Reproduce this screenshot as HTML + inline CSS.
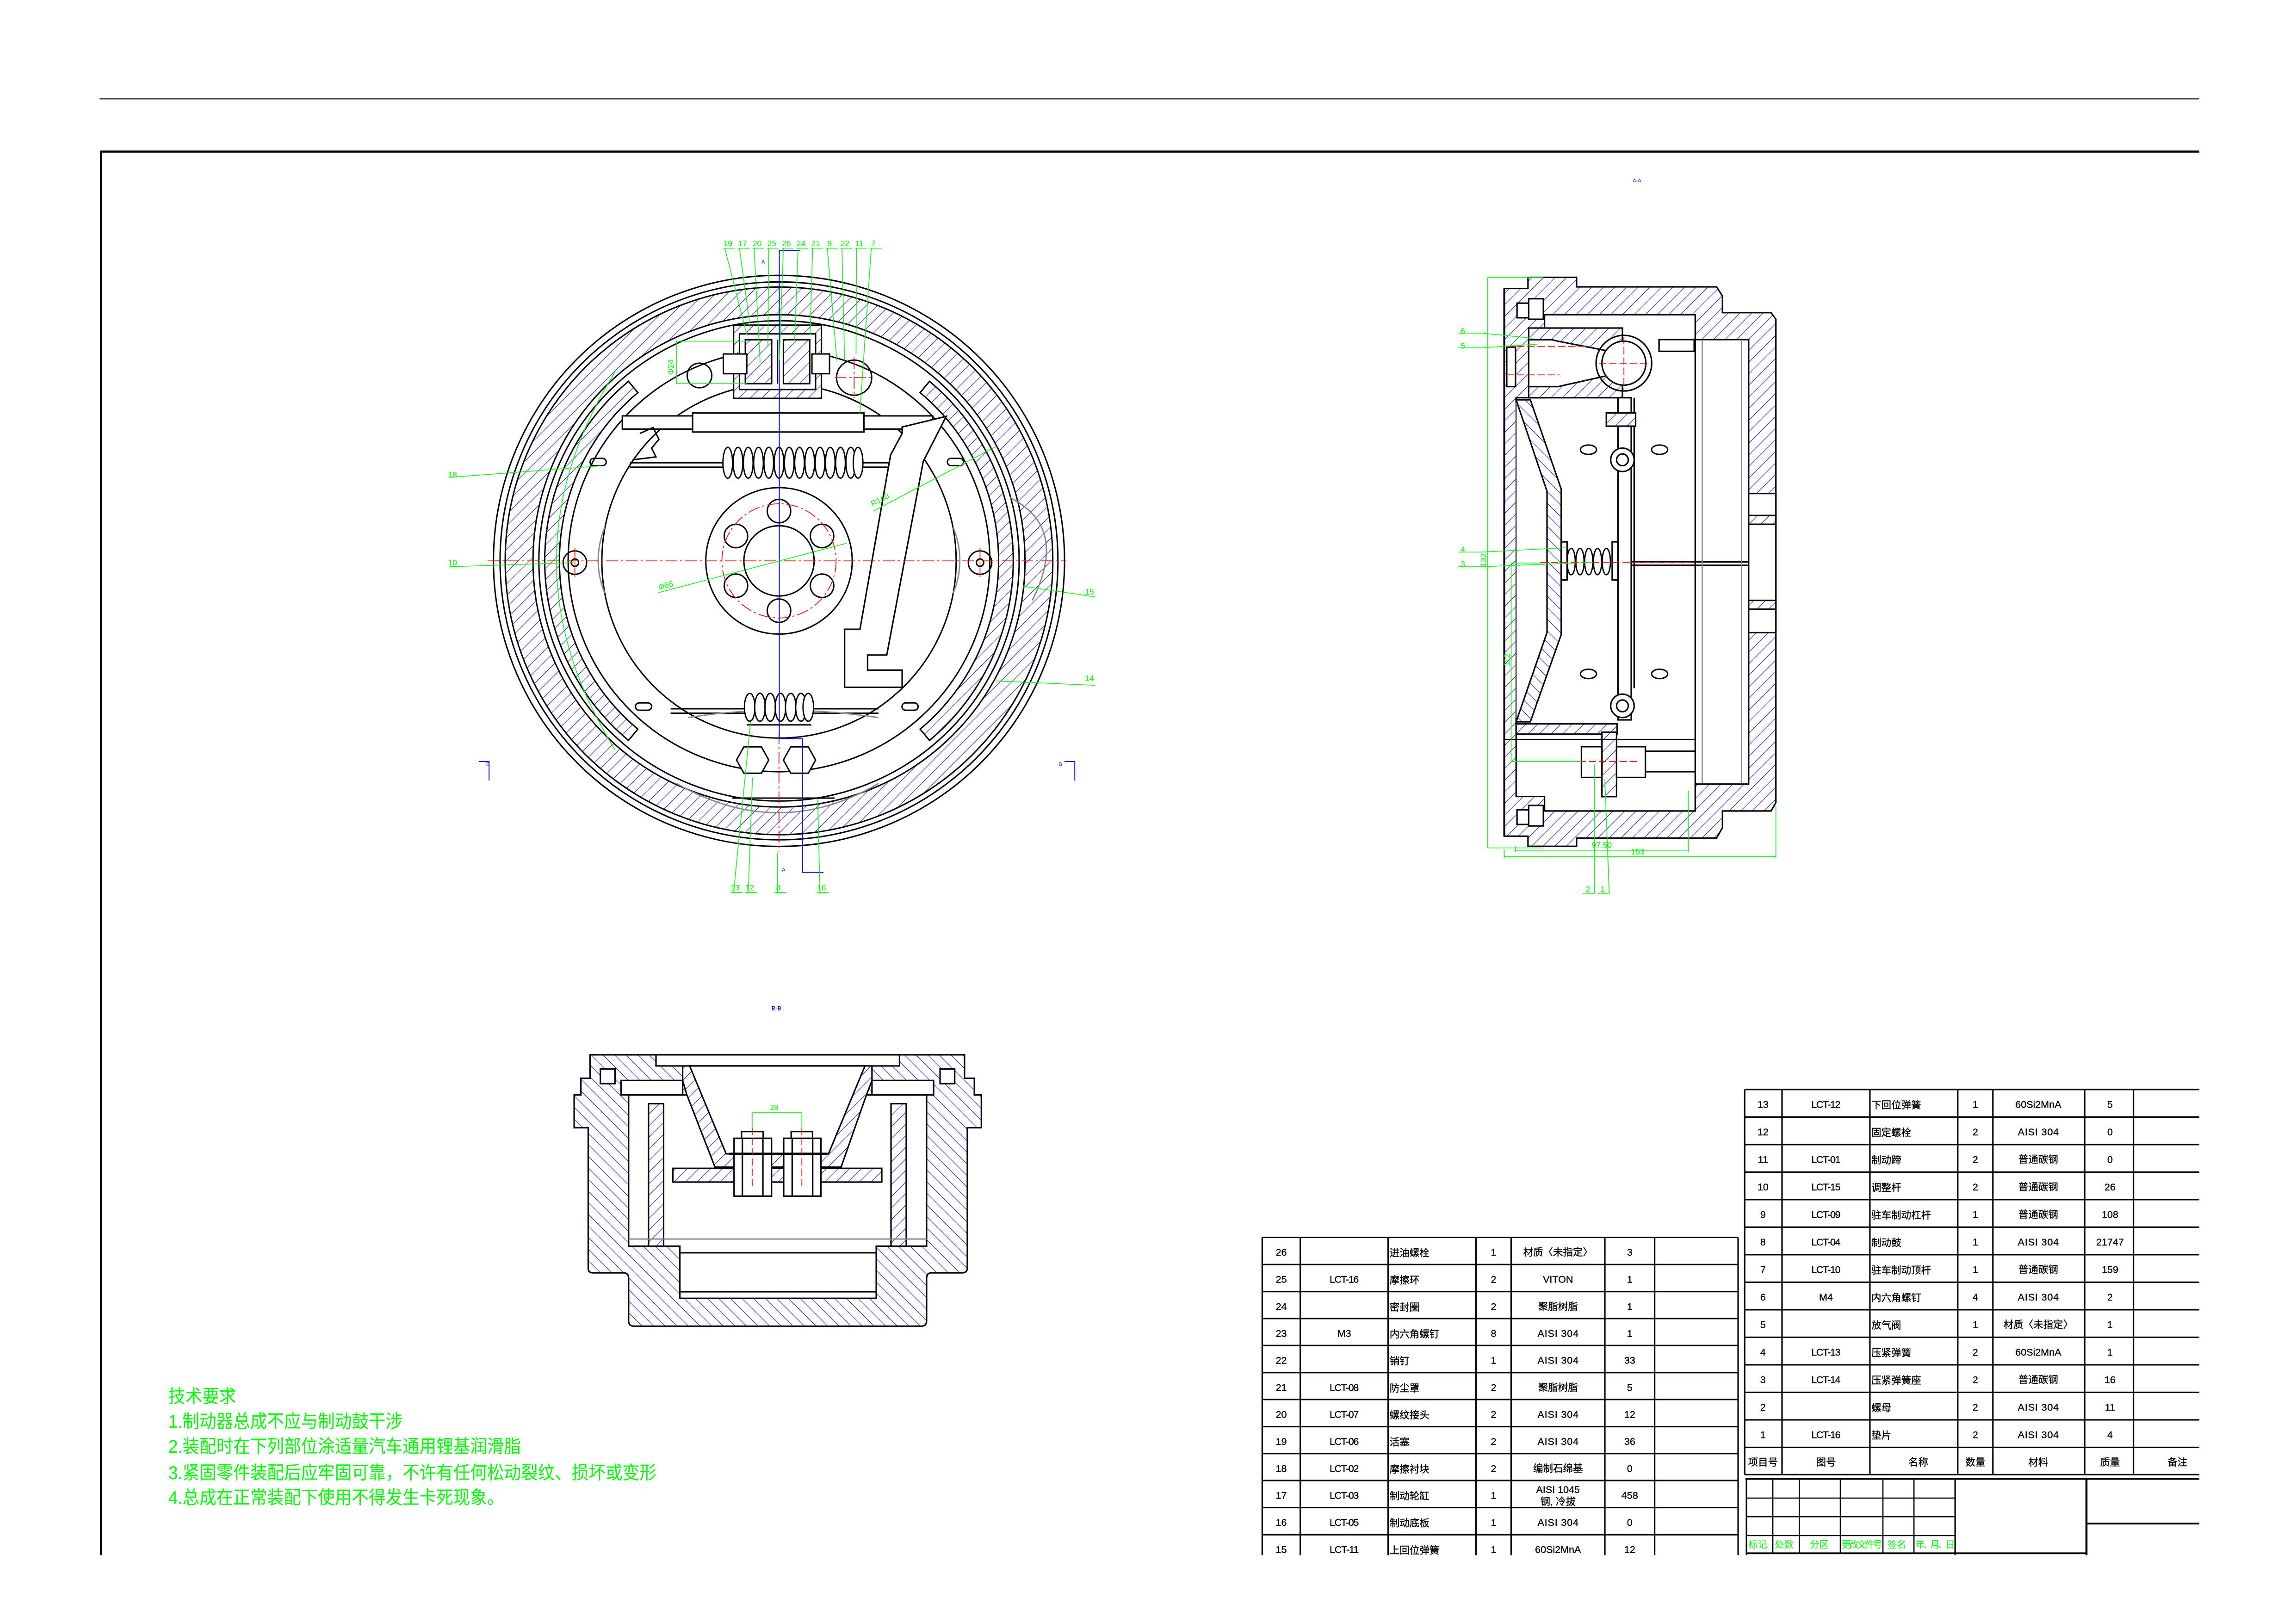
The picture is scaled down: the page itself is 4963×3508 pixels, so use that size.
<!DOCTYPE html>
<html><head><meta charset="utf-8"><style>
html,body{margin:0;padding:0;background:#fff;}
svg{display:block;}
text{font-family:"Liberation Sans","Noto Sans CJK SC",sans-serif;}
</style></head><body>
<svg width="4963" height="3508" viewBox="0 0 1568 1108.3" xmlns="http://www.w3.org/2000/svg">
<defs>
<pattern id="h" patternUnits="userSpaceOnUse" width="5.6" height="5.6" patternTransform="rotate(45)">
<rect width="5.6" height="5.6" fill="#fff"/><line x1="0" y1="0" x2="0" y2="5.6" stroke="#0000ff" stroke-width="0.65"/></pattern>
<pattern id="h2" patternUnits="userSpaceOnUse" width="5.6" height="5.6" patternTransform="rotate(-45)">
<rect width="5.6" height="5.6" fill="#fff"/><line x1="0" y1="0" x2="0" y2="5.6" stroke="#0000ff" stroke-width="0.65"/></pattern>
<clipPath id="pg"><rect x="0" y="0" width="1568" height="1062"/></clipPath>
</defs>
<rect width="1568" height="1108.3" fill="#fff"/>
<g clip-path="url(#pg)">
<!-- frame -->
<line x1="68" y1="67.5" x2="1502" y2="67.5" stroke="#000" stroke-width="0.7"/>
<line x1="68.5" y1="103.5" x2="1502" y2="103.5" stroke="#000" stroke-width="1.4"/>
<line x1="69" y1="103" x2="69" y2="1070" stroke="#000" stroke-width="1.4"/>

<!-- ================= MAIN VIEW ================= -->
<g fill="none" stroke="#000" stroke-width="0.95">
<circle cx="532" cy="383" r="195"/>
<circle cx="532" cy="383" r="190.5"/>
<path d="M345,383 a187,187 0 1 0 374 0 a187,187 0 1 0 -374 0Z M364,383 a168,168 0 1 0 336 0 a168,168 0 1 0 -336 0Z" fill="url(#h)" fill-rule="evenodd"/>
<circle cx="532" cy="383" r="164"/>
<path d="M429.2,260.4 A160,160 0 0 0 429.2,505.6 L435.6,497.9 A150,150 0 0 1 435.6,268.1Z" fill="url(#h)"/>
<path d="M634.8,260.4 A160,160 0 0 1 634.8,505.6 L628.4,497.9 A150,150 0 0 0 628.4,268.1Z" fill="url(#h)"/>
<circle cx="532" cy="383" r="144"/>
<circle cx="532" cy="383" r="121"/>
<circle cx="532" cy="383" r="50"/>
<circle cx="532" cy="383" r="24"/>
<circle cx="532" cy="349" r="8"/><circle cx="532" cy="417" r="8"/>
<circle cx="502.6" cy="366" r="8"/><circle cx="561.4" cy="366" r="8"/>
<circle cx="502.6" cy="400" r="8"/><circle cx="561.4" cy="400" r="8"/>
<circle cx="477.7" cy="256.4" r="8.4"/>
<circle cx="583.3" cy="257.9" r="12"/>
<circle cx="392.6" cy="384.2" r="8"/><circle cx="392.6" cy="384.2" r="2.5"/>
<circle cx="669.3" cy="384.2" r="8"/><circle cx="669.3" cy="384.2" r="2.5"/>
<rect x="403" y="313" width="11" height="5" rx="2.5"/><rect x="647" y="313" width="11" height="5" rx="2.5"/>
<rect x="434" y="480" width="11" height="5" rx="2.5"/><rect x="616" y="480" width="11" height="5" rx="2.5"/>
<rect x="425" y="284" width="212" height="9" fill="#fff"/>
<rect x="473" y="282" width="117" height="13" fill="#fff"/>
<line x1="430" y1="316" x2="610" y2="316"/><line x1="430" y1="319" x2="610" y2="319"/>
<line x1="458" y1="484" x2="600" y2="484"/><line x1="458" y1="487" x2="600" y2="487"/>
<path d="M437,296 L446,292 L450,300 L445,306 L448,312 L432,314"/>
<rect x="501" y="222" width="60" height="50" fill="url(#h)"/>
<rect x="505" y="228" width="52" height="38" fill="#fff"/>
<rect x="509" y="232" width="18" height="30" fill="url(#h)"/>
<rect x="535" y="232" width="18" height="30" fill="url(#h)"/>
<line x1="531" y1="232" x2="531" y2="262"/>
<rect x="494" y="241.7" width="16" height="13.5" fill="#fff"/>
<rect x="554.5" y="241.7" width="12" height="13.5" fill="#fff"/>
<path d="M646.2,284.3 L630.5,315.1 L605.6,447.3 L592.5,447.3 L592.5,457.6 L616.1,457.6 L616.1,469.3 L576.8,469.3 L576.8,429.7 L587.3,429.7 L608.2,310.7 L616.1,296 L616.1,291.6Z" fill="#fff" stroke-width="1"/>
<path d="M508,528 L503,519 L508,510 L520,510 L525,519 L520,528Z" fill="#fff"/>
<path d="M540,528 L535,519 L540,510 L552,510 L557,519 L552,528Z" fill="#fff"/>
<line x1="510" y1="495" x2="554" y2="495"/><line x1="500" y1="545" x2="570" y2="545"/>
</g>
<g fill="none" stroke="#888" stroke-width="0.9">
<path d="M462,535 Q532,575 600,535"/><path d="M470,490 Q532,480 600,490"/>
<path d="M413,360 Q404,383 413,405"/><path d="M651,360 Q660,383 651,405"/>
<path d="M690,340 Q730,360 705,410"/>
</g>
<g fill="#fff" stroke="#000" stroke-width="0.9">
<ellipse cx="497" cy="316" rx="3.3" ry="10.5"/><ellipse cx="504" cy="316" rx="3.3" ry="10.5"/><ellipse cx="511" cy="316" rx="3.3" ry="10.5"/><ellipse cx="518" cy="316" rx="3.3" ry="10.5"/><ellipse cx="525" cy="316" rx="3.3" ry="10.5"/><ellipse cx="532" cy="316" rx="3.3" ry="10.5"/><ellipse cx="539" cy="316" rx="3.3" ry="10.5"/><ellipse cx="546" cy="316" rx="3.3" ry="10.5"/><ellipse cx="553" cy="316" rx="3.3" ry="10.5"/><ellipse cx="560" cy="316" rx="3.3" ry="10.5"/><ellipse cx="567" cy="316" rx="3.3" ry="10.5"/><ellipse cx="574" cy="316" rx="3.3" ry="10.5"/><ellipse cx="581" cy="316" rx="3.3" ry="10.5"/><ellipse cx="586" cy="316" rx="3.3" ry="10.5"/>
<ellipse cx="512" cy="483" rx="3.6" ry="9.5"/><ellipse cx="519" cy="483" rx="3.6" ry="9.5"/><ellipse cx="526" cy="483" rx="3.6" ry="9.5"/><ellipse cx="533" cy="483" rx="3.6" ry="9.5"/><ellipse cx="540" cy="483" rx="3.6" ry="9.5"/><ellipse cx="547" cy="483" rx="3.6" ry="9.5"/><ellipse cx="552" cy="483" rx="3.6" ry="9.5"/>
</g>
<g stroke="#f00" stroke-width="0.55" fill="none" stroke-dasharray="8,2,1.5,2">
<line x1="333" y1="383" x2="728" y2="383"/>
<circle cx="532" cy="383" r="39"/>
<line x1="532" y1="500" x2="532" y2="582"/>
<line x1="583.3" y1="244" x2="583.3" y2="272"/><line x1="570" y1="257.9" x2="597" y2="257.9"/>
<line x1="392.6" y1="374" x2="392.6" y2="394"/><line x1="669.3" y1="374" x2="669.3" y2="394"/>
</g>
<g stroke="#0000ff" stroke-width="0.6" fill="none">
<polyline points="546.6,171.2 532.2,171.2 532.2,504.5 548,504.5 548,595.7 562.4,595.7"/>
<polyline points="327,520 334,520 334,533"/><polyline points="727,520 734,520 734,533"/>
</g>
<g fill="#0000ff" font-size="3.5"><text x="520" y="180">A</text><text x="534" y="595">A</text><text x="332" y="523">B</text><text x="723" y="523">B</text>
<text x="1115" y="124.5">A-A</text></g>
<g stroke="#0f0" stroke-width="0.5" fill="none">
<path d="M494,169.5h8 M504,169.5h8 M514,169.5h8 M524,169.5h8 M534,169.5h8 M544,169.5h8 M554,169.5h8 M564,169.5h8 M574,169.5h8 M584,169.5h8 M594,169.5h8"/>
<line x1="495" y1="169.5" x2="510" y2="228.5"/><line x1="505" y1="169.5" x2="512.6" y2="225.6"/>
<line x1="515" y1="169.5" x2="519.1" y2="247.6"/><line x1="525" y1="169.5" x2="524.4" y2="235.8"/>
<line x1="535" y1="169.5" x2="532.2" y2="246.1"/><line x1="545" y1="169.5" x2="542.7" y2="232.9"/>
<line x1="555" y1="169.5" x2="553.2" y2="228.5"/><line x1="565" y1="169.5" x2="571.5" y2="246.1"/>
<line x1="575" y1="169.5" x2="576.8" y2="246.1"/><line x1="585" y1="169.5" x2="584.6" y2="241.7"/>
<line x1="595" y1="169.5" x2="587.2" y2="282.8"/>
<path d="M499,609.5h8 M509,609.5h8 M529,609.5h8 M558,609.5h8"/>
<line x1="501" y1="609.5" x2="512.6" y2="492.8"/><line x1="511" y1="609.5" x2="513.9" y2="531"/>
<line x1="531" y1="609.5" x2="531" y2="582.4"/><line x1="560" y1="609.5" x2="558.4" y2="545.7"/>
<line x1="307" y1="326" x2="410.4" y2="318.1"/><line x1="307" y1="387" x2="392" y2="384.2"/>
<line x1="698.6" y1="400.3" x2="748" y2="407.6"/><line x1="680.3" y1="465" x2="748" y2="468"/>
<line x1="596.4" y1="349" x2="680.3" y2="304.9"/><line x1="449.7" y1="404.7" x2="578.1" y2="371"/>
<polyline points="510,233 462,233 462,262 510,262"/>
<path d="M420,254 Q340,383 420,512"/>
</g>
<g fill="#0f0" font-size="5.5">
<text x="494" y="168">19</text><text x="504" y="168">17</text><text x="514" y="168">20</text><text x="524" y="168">25</text><text x="534" y="168">26</text><text x="544" y="168">24</text><text x="554" y="168">21</text><text x="565" y="168">9</text><text x="574" y="168">22</text><text x="584" y="168">11</text><text x="595" y="168">7</text>
<text x="499" y="608">13</text><text x="509" y="608">12</text><text x="530" y="608">8</text><text x="558" y="608">16</text>
<text x="306" y="326">18</text><text x="306" y="386">10</text><text x="741" y="406">15</text><text x="741" y="465">14</text>
<text x="596" y="346" transform="rotate(-28 596 346)">R140</text><text x="450" y="403" transform="rotate(-15 450 403)">Φ65</text>
<text x="460" y="256" transform="rotate(-90 460 256)">Φ24</text>
</g>

<!-- ================= SIDE VIEW A-A ================= -->
<g stroke="#000" stroke-width="1">
<path d="M1043.5,189.4 L1076.7,189.4 L1076.7,195.9 L1172.3,195.9 L1176.3,202.2 L1176.3,213.5 L1209.5,213.5 L1212.8,218 L1212.8,548 L1209.5,553.8 L1176.3,553.8 L1176.3,565.2 L1172.3,572.3 L1076.7,572.3 L1076.7,577.9 L1043.5,577.9 L1043.5,571 L1027.3,571 L1027.3,197 L1043.5,197Z" fill="url(#h)"/>
<path d="M1054.8,214.9 L1157.7,214.9 L1157.7,231.9 L1194.2,231.9 L1194.2,535.4 L1157.7,535.4 L1157.7,553.8 L1054.8,553.8 L1054.8,543.9 L1035.4,543.9 L1035.4,271.6 L1054.8,271.6Z" fill="#fff"/>
<rect x="1036" y="207" width="8" height="10" fill="#fff"/><rect x="1036" y="553" width="8" height="10" fill="#fff"/>
<rect x="1044" y="204" width="10" height="14" fill="#fff"/><rect x="1044" y="550" width="10" height="14" fill="#fff"/>
<rect x="1044" y="224" width="64" height="47.6" fill="url(#h)"/>
<path d="M1044,232 L1060,232 L1064,233 L1100,240 L1100,256 L1064,264 L1044,264Z" fill="#fff"/>
<circle cx="1109" cy="248" r="15" fill="#fff"/>
<circle cx="1109" cy="248" r="19" fill="none"/>
<rect x="1029" y="237" width="6" height="27" fill="#fff"/>
<rect x="1133" y="231.9" width="24" height="8" fill="#fff"/>
<path d="M1035.4,273 L1045.1,273 L1066.2,334 L1066.2,433.3 L1045.1,492.9 L1035.4,492.9 L1056.5,431.9 L1056.5,335.5Z" fill="url(#h2)"/>
<rect x="1105" y="271.6" width="9" height="220" fill="#fff"/>
<line x1="1116" y1="271.6" x2="1116" y2="470" />
<rect x="1097" y="282" width="20" height="9" fill="url(#h)"/>
<circle cx="1108" cy="314" r="8" fill="#fff"/><circle cx="1108" cy="314" r="4" fill="#fff"/>
<circle cx="1108" cy="482" r="8" fill="#fff"/><circle cx="1108" cy="482" r="4" fill="#fff"/>
<rect x="1066.2" y="370" width="4" height="26" fill="#fff"/><rect x="1101" y="370" width="4" height="26" fill="#fff"/>
<line x1="1114" y1="383.7" x2="1194" y2="383.7"/><line x1="1114" y1="386" x2="1194" y2="386"/>
<rect x="1035.4" y="494.3" width="69" height="7" fill="url(#h)"/>
<rect x="1094" y="500" width="10" height="44" fill="url(#h)"/>
<rect x="1080" y="509.9" width="14" height="21" fill="#fff"/>
<rect x="1104" y="509.9" width="19.7" height="21" fill="#fff"/>
<line x1="1123.7" y1="513" x2="1157.7" y2="513"/><line x1="1123.7" y1="527" x2="1157.7" y2="527"/>
<line x1="1027.3" y1="505" x2="1157.7" y2="505"/>
<line x1="1157.7" y1="231.9" x2="1157.7" y2="535.4"/>
<rect x="1194.2" y="337" width="18.6" height="95" fill="#fff"/>
<rect x="1194.2" y="352" width="18.6" height="6" fill="url(#h)"/>
<rect x="1194.2" y="410" width="18.6" height="6" fill="url(#h)"/>
<line x1="1027.3" y1="197" x2="1027.3" y2="571" stroke-width="1.3"/>
</g>
<g fill="none" stroke="#000" stroke-width="0.95">
<ellipse cx="1084.8" cy="307.1" rx="5.5" ry="3.2"/><ellipse cx="1133.4" cy="307.1" rx="5.5" ry="3.2"/>
<ellipse cx="1084.8" cy="460.2" rx="5.5" ry="3.2"/><ellipse cx="1133.4" cy="460.2" rx="5.5" ry="3.2"/>
</g>
<g fill="#fff" stroke="#000" stroke-width="0.9">
<ellipse cx="1073" cy="383.5" rx="2.8" ry="9"/><ellipse cx="1079" cy="383.5" rx="2.8" ry="9"/><ellipse cx="1085" cy="383.5" rx="2.8" ry="9"/><ellipse cx="1091" cy="383.5" rx="2.8" ry="9"/><ellipse cx="1097" cy="383.5" rx="2.8" ry="9"/>
</g>
<g stroke="#888" stroke-width="0.8"><line x1="1035.4" y1="275" x2="1035.4" y2="490"/><line x1="1162.5" y1="232" x2="1162.5" y2="535"/><line x1="1189.3" y1="232" x2="1189.3" y2="535"/></g>
<g stroke="#f00" stroke-width="0.55" stroke-dasharray="5,2"><line x1="1029" y1="236.5" x2="1084" y2="236.5"/><line x1="1029" y1="256" x2="1065" y2="256"/><line x1="1092" y1="248" x2="1127" y2="248"/><line x1="1109" y1="230" x2="1109" y2="266"/><line x1="1052" y1="384" x2="1155" y2="384"/><line x1="1078" y1="520" x2="1118" y2="520"/></g>
<g stroke="#0f0" stroke-width="0.5" fill="none">
<line x1="1016" y1="189.4" x2="1016" y2="579"/><line x1="1016" y1="189.4" x2="1054" y2="189.4"/><line x1="1016" y1="579" x2="1054" y2="579"/>
<line x1="1035" y1="578" x2="1035" y2="582"/><line x1="1035" y1="581" x2="1153" y2="581"/><line x1="1153" y1="540" x2="1153" y2="582"/>
<line x1="1027.3" y1="580" x2="1027.3" y2="586"/><line x1="1027" y1="585" x2="1212.8" y2="585"/><line x1="1212.8" y1="550" x2="1212.8" y2="586"/>
<line x1="1032" y1="384.5" x2="1032" y2="520"/><line x1="1032" y1="520" x2="1080" y2="520"/><line x1="1032" y1="384.5" x2="1055" y2="384.5"/>
<path d="M996,227.5h16 L1047,231 M996,237.5h16 L1050,235 M996,377h16 L1070,374 M996,387h16 L1087,384"/>
<path d="M1081,610h8 L1089,522 M1091,610h8 L1096,532"/>
</g>
<g fill="#0f0" font-size="5.5">
<text x="997.5" y="228">6</text><text x="997.5" y="238">5</text><text x="997.5" y="377">4</text><text x="997.5" y="387">3</text>
<text x="1083" y="609">2</text><text x="1093" y="609">1</text>
<text x="1087" y="579">97.50</text><text x="1114" y="583.5">153</text>
<text x="1015" y="387" transform="rotate(-90 1015 387)">132</text><text x="1031" y="455" transform="rotate(-90 1031 455)">112</text>
</g>

<!-- ================= B-B VIEW ================= -->
<text x="527" y="690" fill="#0000ff" font-size="4">B-B</text>
<g stroke="#000" stroke-width="1">
<path d="M403,720.3 L658.7,720.3 L658.7,736.3 L665.4,736.3 L665.4,747.7 L670.2,747.7 L670.2,770.1 L660.6,770.1 L660.6,866 Q660.6,869.2 657,869.2 L636,869.2 Q632.8,869.2 632.8,873 L632.8,902 Q632.8,905.6 629,905.6 L433,905.6 Q429.3,905.6 429.3,902 L429.3,873 Q429.3,869.2 426,869.2 L405,869.2 Q401.7,869.2 401.7,866 L401.7,770.1 L392.1,770.1 L392.1,747.7 L396.7,747.7 L396.7,736.3 L403,736.3Z" fill="url(#h2)"/>
<path d="M429.3,747.7 L632.8,747.7 L632.8,851 L598.4,851 L598.4,886.6 L464.3,886.6 L464.3,851 L429.3,851Z" fill="#fff"/>
<rect x="448" y="720.3" width="166.3" height="7.6" fill="#fff"/>
<path d="M466.2,727.9 L595.5,727.9 L595.5,737.8 L591.7,747.7 L574.4,797 L488.3,797 L469.1,747.7 L466.2,737.8Z" fill="url(#h)"/>
<path d="M471,727.9 L590.7,727.9 L565.8,787.9 L495.9,787.9Z" fill="#fff"/>
<rect x="424.1" y="737.8" width="42.1" height="9.9" fill="#fff"/>
<rect x="595.5" y="737.8" width="42.1" height="9.9" fill="#fff"/>
<rect x="410" y="730" width="10" height="10" fill="#fff"/><rect x="642" y="730" width="10" height="10" fill="#fff"/>
<rect x="442.9" y="753.7" width="10.3" height="97.3" fill="url(#h)"/>
<rect x="608.5" y="753.7" width="10.4" height="97.3" fill="url(#h)"/>
<rect x="459.5" y="797.8" width="142.7" height="9.4" fill="url(#h)"/>
<rect x="501.3" y="777.3" width="25.6" height="39.5" fill="#fff"/>
<rect x="535.2" y="777.3" width="25.4" height="39.5" fill="#fff"/>
<rect x="506.4" y="772.7" width="14.8" height="4.6" fill="#fff"/>
<rect x="540.3" y="772.7" width="14.6" height="4.6" fill="#fff"/>
<line x1="507" y1="777.3" x2="507" y2="816.8"/><line x1="521" y1="777.3" x2="521" y2="816.8"/>
<line x1="541" y1="777.3" x2="541" y2="816.8"/><line x1="555" y1="777.3" x2="555" y2="816.8"/>
<line x1="498" y1="787.9" x2="565" y2="787.9" stroke-width="1.6"/>
<line x1="464.3" y1="855.5" x2="598.4" y2="855.5"/><line x1="464.3" y1="882.1" x2="598.4" y2="882.1"/>
</g>
<line x1="429.3" y1="846.1" x2="632.8" y2="846.1" stroke="#888" stroke-width="0.9"/>
<g stroke="#f00" stroke-width="0.55" stroke-dasharray="5,2"><line x1="513.7" y1="770" x2="513.7" y2="810"/><line x1="547.6" y1="770" x2="547.6" y2="810"/></g>
<g stroke="#0f0" stroke-width="0.5"><line x1="513.7" y1="759.8" x2="513.7" y2="770"/><line x1="547.6" y1="759.8" x2="547.6" y2="770"/><line x1="513.7" y1="759.8" x2="547.6" y2="759.8"/></g>
<text x="526" y="758" fill="#0f0" font-size="5">28</text>

<!-- ================= TECH REQ ================= -->
<g fill="#0f0" font-size="12.5" font-family="'Liberation Serif','Noto Serif CJK SC',serif" transform="translate(115,0) scale(0.925,1) translate(-115,0)">
<text x="115" y="958">技术要求</text>
<text x="115" y="975">1.制动器总成不应与制动鼓干涉</text>
<text x="115" y="992">2.装配时在下列部位涂适量汽车通用锂基润滑脂</text>
<text x="115" y="1010">3.紧固零件装配后应牢固可靠，不许有任何松动裂纹、损坏或变形</text>
<text x="115" y="1027">4.总成在正常装配下使用不得发生卡死现象。</text>
</g>

<!-- ================= LEFT TABLE ================= -->
<g stroke="#000" stroke-width="1" fill="none">
<line x1="862" y1="845" x2="1187" y2="845"/>
<line x1="862" y1="863.5" x2="1187" y2="863.5"/><line x1="862" y1="882" x2="1187" y2="882"/><line x1="862" y1="900.4" x2="1187" y2="900.4"/><line x1="862" y1="918.8" x2="1187" y2="918.8"/><line x1="862" y1="937.3" x2="1187" y2="937.3"/><line x1="862" y1="955.7" x2="1187" y2="955.7"/><line x1="862" y1="974.2" x2="1187" y2="974.2"/><line x1="862" y1="992.6" x2="1187" y2="992.6"/><line x1="862" y1="1011" x2="1187" y2="1011"/><line x1="862" y1="1029.5" x2="1187" y2="1029.5"/><line x1="862" y1="1048" x2="1187" y2="1048"/>
<line x1="862" y1="845" x2="862" y2="1070"/><line x1="888" y1="845" x2="888" y2="1070"/><line x1="948" y1="845" x2="948" y2="1070"/><line x1="1008" y1="845" x2="1008" y2="1070"/><line x1="1032" y1="845" x2="1032" y2="1070"/><line x1="1096" y1="845" x2="1096" y2="1070"/><line x1="1130" y1="845" x2="1130" y2="1070"/><line x1="1187" y1="845" x2="1187" y2="1070"/>
</g>
<g font-size="6.8" fill="#000" stroke="#000" stroke-width="0.12">
<g text-anchor="middle">
<text x="875" y="857.5">26</text><text x="875" y="876">25</text><text x="875" y="894.5">24</text><text x="875" y="912.9">23</text><text x="875" y="931.3">22</text><text x="875" y="949.8">21</text><text x="875" y="968.2">20</text><text x="875" y="986.7">19</text><text x="875" y="1005.1">18</text><text x="875" y="1023.5">17</text><text x="875" y="1042">16</text><text x="875" y="1060.5">15</text>
<text x="918" y="876" textLength="20">LCT-16</text><text x="918" y="912.9">M3</text><text x="918" y="949.8" textLength="20">LCT-08</text><text x="918" y="968.2" textLength="20">LCT-07</text><text x="918" y="986.7" textLength="20">LCT-06</text><text x="918" y="1005.1" textLength="20">LCT-02</text><text x="918" y="1023.5" textLength="20">LCT-03</text><text x="918" y="1042" textLength="20">LCT-05</text><text x="918" y="1060.5" textLength="20">LCT-11</text>
<text x="1020" y="857.5">1</text><text x="1020" y="876">2</text><text x="1020" y="894.5">2</text><text x="1020" y="912.9">8</text><text x="1020" y="931.3">1</text><text x="1020" y="949.8">2</text><text x="1020" y="968.2">2</text><text x="1020" y="986.7">2</text><text x="1020" y="1005.1">2</text><text x="1020" y="1023.5">1</text><text x="1020" y="1042">1</text><text x="1020" y="1060.5">1</text>
<text x="1064" y="857.5">材质〈未指定〉</text><text x="1064" y="876">VITON</text><text x="1064" y="894.5">聚脂树脂</text><text x="1064" y="912.9" textLength="28">AISI 304</text><text x="1064" y="931.3" textLength="28">AISI 304</text><text x="1064" y="949.8">聚脂树脂</text><text x="1064" y="968.2" textLength="28">AISI 304</text><text x="1064" y="986.7" textLength="28">AISI 304</text><text x="1064" y="1005.1">编制石绵基</text><text x="1064" y="1019.5">AISI 1045</text><text x="1064" y="1027.8">钢, 冷拔</text><text x="1064" y="1042" textLength="28">AISI 304</text><text x="1064" y="1060.5">60Si2MnA</text>
<text x="1113" y="857.5">3</text><text x="1113" y="876">1</text><text x="1113" y="894.5">1</text><text x="1113" y="912.9">1</text><text x="1113" y="931.3">33</text><text x="1113" y="949.8">5</text><text x="1113" y="968.2">12</text><text x="1113" y="986.7">36</text><text x="1113" y="1005.1">0</text><text x="1113" y="1023.5">458</text><text x="1113" y="1042">0</text><text x="1113" y="1060.5">12</text>
</g>
<text x="949" y="858">进油螺栓</text><text x="949" y="876.5">摩擦环</text><text x="949" y="895">密封圈</text><text x="949" y="913.4">内六角螺钉</text><text x="949" y="931.8">销钉</text><text x="949" y="950.3">防尘罩</text><text x="949" y="968.7">螺纹接头</text><text x="949" y="987.2">活塞</text><text x="949" y="1005.6">摩擦衬块</text><text x="949" y="1024">制动轮缸</text><text x="949" y="1042.5">制动底板</text><text x="949" y="1061">上回位弹簧</text>
</g>

<!-- ================= RIGHT TABLE ================= -->
<g stroke="#000" stroke-width="1" fill="none">
<line x1="1191.5" y1="744" x2="1502" y2="744"/>
<line x1="1191.5" y1="762.8" x2="1502" y2="762.8"/><line x1="1191.5" y1="781.6" x2="1502" y2="781.6"/><line x1="1191.5" y1="800.4" x2="1502" y2="800.4"/><line x1="1191.5" y1="819.2" x2="1502" y2="819.2"/><line x1="1191.5" y1="838" x2="1502" y2="838"/><line x1="1191.5" y1="856.8" x2="1502" y2="856.8"/><line x1="1191.5" y1="875.6" x2="1502" y2="875.6"/><line x1="1191.5" y1="894.4" x2="1502" y2="894.4"/><line x1="1191.5" y1="913.2" x2="1502" y2="913.2"/><line x1="1191.5" y1="932" x2="1502" y2="932"/><line x1="1191.5" y1="950.8" x2="1502" y2="950.8"/><line x1="1191.5" y1="969.6" x2="1502" y2="969.6"/><line x1="1191.5" y1="988.4" x2="1502" y2="988.4"/><line x1="1191.5" y1="1007" x2="1502" y2="1007"/>
<line x1="1191.5" y1="744" x2="1191.5" y2="1007"/><line x1="1217" y1="744" x2="1217" y2="1007"/><line x1="1277" y1="744" x2="1277" y2="1007"/><line x1="1337" y1="744" x2="1337" y2="1007"/><line x1="1361" y1="744" x2="1361" y2="1007"/><line x1="1423.7" y1="744" x2="1423.7" y2="1007"/><line x1="1457" y1="744" x2="1457" y2="1007"/>
</g>
<g font-size="6.8" fill="#000" stroke="#000" stroke-width="0.12">
<g text-anchor="middle">
<text x="1204" y="756.5">13</text><text x="1204" y="775.3">12</text><text x="1204" y="794.1">11</text><text x="1204" y="812.9">10</text><text x="1204" y="831.7">9</text><text x="1204" y="850.5">8</text><text x="1204" y="869.3">7</text><text x="1204" y="888.1">6</text><text x="1204" y="906.9">5</text><text x="1204" y="925.7">4</text><text x="1204" y="944.5">3</text><text x="1204" y="963.3">2</text><text x="1204" y="982.1">1</text><text x="1204" y="1000.9">项目号</text>
<text x="1247" y="756.5" textLength="20">LCT-12</text><text x="1247" y="794.1" textLength="20">LCT-01</text><text x="1247" y="812.9" textLength="20">LCT-15</text><text x="1247" y="831.7" textLength="20">LCT-09</text><text x="1247" y="850.5" textLength="20">LCT-04</text><text x="1247" y="869.3" textLength="20">LCT-10</text><text x="1247" y="888.1">M4</text><text x="1247" y="925.7" textLength="20">LCT-13</text><text x="1247" y="944.5" textLength="20">LCT-14</text><text x="1247" y="982.1" textLength="20">LCT-16</text><text x="1247" y="1000.9">图号</text>
<text x="1310" y="1000.9">名称</text>
<text x="1349" y="756.5">1</text><text x="1349" y="775.3">2</text><text x="1349" y="794.1">2</text><text x="1349" y="812.9">2</text><text x="1349" y="831.7">1</text><text x="1349" y="850.5">1</text><text x="1349" y="869.3">1</text><text x="1349" y="888.1">4</text><text x="1349" y="906.9">1</text><text x="1349" y="925.7">2</text><text x="1349" y="944.5">2</text><text x="1349" y="963.3">2</text><text x="1349" y="982.1">2</text><text x="1349" y="1000.9">数量</text>
<text x="1392" y="756.5">60Si2MnA</text><text x="1392" y="775.3" textLength="28">AISI 304</text><text x="1392" y="794.1">普通碳钢</text><text x="1392" y="812.9">普通碳钢</text><text x="1392" y="831.7">普通碳钢</text><text x="1392" y="850.5" textLength="28">AISI 304</text><text x="1392" y="869.3">普通碳钢</text><text x="1392" y="888.1" textLength="28">AISI 304</text><text x="1392" y="906.9">材质〈未指定〉</text><text x="1392" y="925.7">60Si2MnA</text><text x="1392" y="944.5">普通碳钢</text><text x="1392" y="963.3" textLength="28">AISI 304</text><text x="1392" y="982.1" textLength="28">AISI 304</text><text x="1392" y="1000.9">材料</text>
<text x="1441" y="756.5">5</text><text x="1441" y="775.3">0</text><text x="1441" y="794.1">0</text><text x="1441" y="812.9">26</text><text x="1441" y="831.7">108</text><text x="1441" y="850.5">21747</text><text x="1441" y="869.3">159</text><text x="1441" y="888.1">2</text><text x="1441" y="906.9">1</text><text x="1441" y="925.7">1</text><text x="1441" y="944.5">16</text><text x="1441" y="963.3">11</text><text x="1441" y="982.1">4</text><text x="1441" y="1000.9">质量</text>
<text x="1487" y="1000.9">备注</text>
</g>
<text x="1278" y="757">下回位弹簧</text><text x="1278" y="775.8">固定螺栓</text><text x="1278" y="794.6">制动蹄</text><text x="1278" y="813.4">调整杆</text><text x="1278" y="832.2">驻车制动杠杆</text><text x="1278" y="851">制动鼓</text><text x="1278" y="869.8">驻车制动顶杆</text><text x="1278" y="888.6">内六角螺钉</text><text x="1278" y="907.4">放气阀</text><text x="1278" y="926.2">压紧弹簧</text><text x="1278" y="945">压紧弹簧座</text><text x="1278" y="963.8">螺母</text><text x="1278" y="982.6">垫片</text>
</g>
<g stroke="#000" fill="none">
<line x1="1192" y1="1009.8" x2="1502" y2="1009.8" stroke-width="1.4"/>
<line x1="1192.7" y1="1009.8" x2="1192.7" y2="1070" stroke-width="1"/>
<line x1="1424.9" y1="1009.8" x2="1424.9" y2="1070" stroke-width="1.4"/>
<line x1="1335.2" y1="1009.8" x2="1335.2" y2="1070" stroke-width="1"/>
<line x1="1424.9" y1="1040.4" x2="1502" y2="1040.4" stroke-width="1.2"/>
<g stroke-width="0.8">
<line x1="1192.7" y1="1023" x2="1335.2" y2="1023"/><line x1="1192.7" y1="1035.7" x2="1335.2" y2="1035.7"/><line x1="1192.7" y1="1048.6" x2="1335.2" y2="1048.6"/>
<line x1="1210.7" y1="1009.8" x2="1210.7" y2="1060.7"/><line x1="1228.8" y1="1009.8" x2="1228.8" y2="1060.7"/><line x1="1256.8" y1="1009.8" x2="1256.8" y2="1060.7"/><line x1="1285.9" y1="1009.8" x2="1285.9" y2="1060.7"/><line x1="1307.1" y1="1009.8" x2="1307.1" y2="1060.7"/>
</g>
<line x1="1192.7" y1="1060.7" x2="1424.9" y2="1060.7" stroke-width="1.2"/>
</g>
<g fill="#0f0" font-size="6.5">
<text x="1194" y="1057">标记</text><text x="1212" y="1057">处数</text><text x="1236" y="1057">分区</text><text x="1257.5" y="1057" textLength="28">更改文件号</text><text x="1289" y="1057">签名</text><text x="1308" y="1057" textLength="27">年、月、日</text>
</g>
</g>
</svg>
</body></html>
